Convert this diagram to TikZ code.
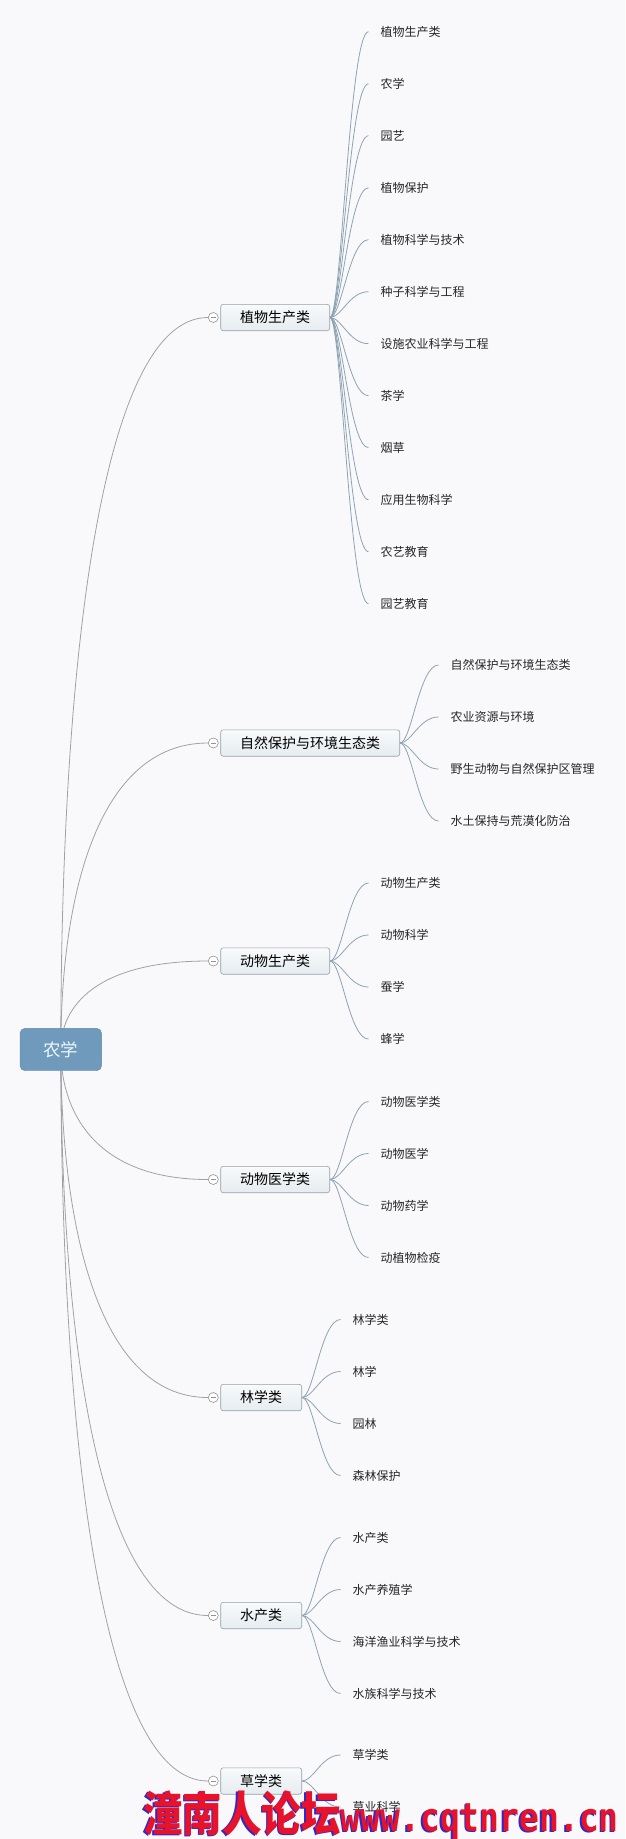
\documentclass[tikz,border=0pt]{standalone}
\usepackage{fontspec}
\setmainfont{Noto Sans CJK SC}
\newfontfamily\wmlat{DejaVu Sans Mono}
\usetikzlibrary{calc}
\pgfdeclarelayer{bg}
\pgfdeclarelayer{edges}
\pgfsetlayers{bg,edges,main}
\definecolor{bgc}{RGB}{249,249,251}
\definecolor{rootfill}{RGB}{112,154,188}
\definecolor{rootdraw}{RGB}{96,138,172}
\definecolor{rootink}{RGB}{236,247,252}
\definecolor{cattop}{RGB}{248,250,251}
\definecolor{catbot}{RGB}{230,236,240}
\definecolor{catdraw}{RGB}{150,160,168}
\definecolor{trunk}{RGB}{158,162,166}
\definecolor{twig}{RGB}{140,163,178}
\definecolor{wmred}{RGB}{232,18,42}
\definecolor{wmblue}{RGB}{44,40,205}
\newcommand\rootlink[1]{\draw[trunkline] (root.center) .. controls ($(root.center)!0.5!(root.center |- #1.west)$) and ($(root.center |- #1.west)!0.25!(#1.west)$) .. (#1.west);}
\newcommand\leaflink[2]{\draw[twigline] (#1.east) .. controls ($(#1.east)!0.3!(#1.east -| #2.west)$) and ($(#1.east |- #2.west)!0.5!(#2.west)$) .. (#2.west);}
\newcommand\wmtext{\scalebox{1}[1.2]{\fontsize{39.5}{40}\selectfont\bfseries 潼南人论坛{\wmlat\fontsize{33}{33}\selectfont\bfseries www.cqtnren.cn}}}
\begin{document}
\begin{tikzpicture}[x=1pt,y=-1pt,
  rootbox/.style={draw=rootdraw, fill=rootfill, rounded corners=5pt, minimum width=81.6pt, minimum height=42.4pt, text=rootink, font=\fontsize{17.5}{20}\selectfont, inner sep=0pt},
  catbox/.style={draw=catdraw, top color=cattop, bottom color=catbot, rounded corners=2.5pt, minimum height=26.4pt, inner xsep=19.5pt, inner ysep=0pt, font=\fontsize{14}{16}\selectfont, anchor=west, line width=0.6pt},
  minusc/.style={circle, draw=gray!85, fill=white, minimum size=10pt, inner sep=0pt, line width=0.6pt,
    path picture={\draw[gray!85, line width=0.6pt] ([xshift=2.5pt]path picture bounding box.west) -- ([xshift=-2.5pt]path picture bounding box.east);}},
  leaf/.style={anchor=west, inner xsep=12pt, inner ysep=0pt, font=\fontsize{12}{14}\selectfont, text=black!85},
  trunkline/.style={draw=trunk, line width=0.8pt},
  twigline/.style={draw=twig, line width=0.8pt},
  wm/.style={anchor=base west, inner sep=0pt}]
\useasboundingbox (0,0) rectangle (625,1839);
\begin{pgfonlayer}{bg}
\fill[bgc] (0,0) rectangle (625,1839);
\end{pgfonlayer}

\node[rootbox] (root) at (60.8,1049.5) {农学};

\node[catbox] (c1) at (220.4,317.5) {植物生产类};
\node[catbox] (c2) at (220.4,743) {自然保护与环境生态类};
\node[catbox] (c3) at (220.4,961) {动物生产类};
\node[catbox] (c4) at (220.4,1179.5) {动物医学类};
\node[catbox] (c5) at (220.4,1397.5) {林学类};
\node[catbox] (c6) at (220.4,1615.5) {水产类};
\node[catbox] (c7) at (220.4,1781) {草学类};

\foreach \k/\yy in {1/317.5,2/743,3/961,4/1179.5,5/1397.5,6/1615.5,7/1781}{
  \node[minusc] (m\k) at (213.3,\yy) {};
}

\begin{pgfonlayer}{edges}
\foreach \k in {1,...,7}{\rootlink{m\k}}
\end{pgfonlayer}

\foreach \t [count=\i from 0] in {植物生产类,农学,园艺,植物保护,植物科学与技术,种子科学与工程,设施农业科学与工程,茶学,烟草,应用生物科学,农艺教育,园艺教育}{
  \node[leaf] (a\i) at (368.5,{31.7+52*\i}) {\t};
  \begin{pgfonlayer}{edges}\leaflink{c1}{a\i}\end{pgfonlayer}
}
\foreach \t [count=\i from 0] in {自然保护与环境生态类,农业资源与环境,野生动物与自然保护区管理,水土保持与荒漠化防治}{
  \node[leaf] (b\i) at (438.5,{665+52*\i}) {\t};
  \begin{pgfonlayer}{edges}\leaflink{c2}{b\i}\end{pgfonlayer}
}
\foreach \t [count=\i from 0] in {动物生产类,动物科学,蚕学,蜂学}{
  \node[leaf] (d\i) at (368.5,{883+52*\i}) {\t};
  \begin{pgfonlayer}{edges}\leaflink{c3}{d\i}\end{pgfonlayer}
}
\foreach \t [count=\i from 0] in {动物医学类,动物医学,动物药学,动植物检疫}{
  \node[leaf] (e\i) at (368.5,{1101.5+52*\i}) {\t};
  \begin{pgfonlayer}{edges}\leaflink{c4}{e\i}\end{pgfonlayer}
}
\foreach \t [count=\i from 0] in {林学类,林学,园林,森林保护}{
  \node[leaf] (f\i) at (340.5,{1319.5+52*\i}) {\t};
  \begin{pgfonlayer}{edges}\leaflink{c5}{f\i}\end{pgfonlayer}
}
\foreach \t [count=\i from 0] in {水产类,水产养殖学,海洋渔业科学与技术,水族科学与技术}{
  \node[leaf] (g\i) at (340.5,{1537.5+52*\i}) {\t};
  \begin{pgfonlayer}{edges}\leaflink{c6}{g\i}\end{pgfonlayer}
}
\foreach \t [count=\i from 0] in {草学类,草业科学}{
  \node[leaf] (h\i) at (340.5,{1755+52*\i}) {\t};
  \begin{pgfonlayer}{edges}\leaflink{c7}{h\i}\end{pgfonlayer}
}

\node[wm, text=wmblue] (wmshadow) at (141.3,1832.6) {\wmtext};
\node[wm, text=wmred] (wmark) at (143,1831) {\wmtext};
\end{tikzpicture}
\end{document}
